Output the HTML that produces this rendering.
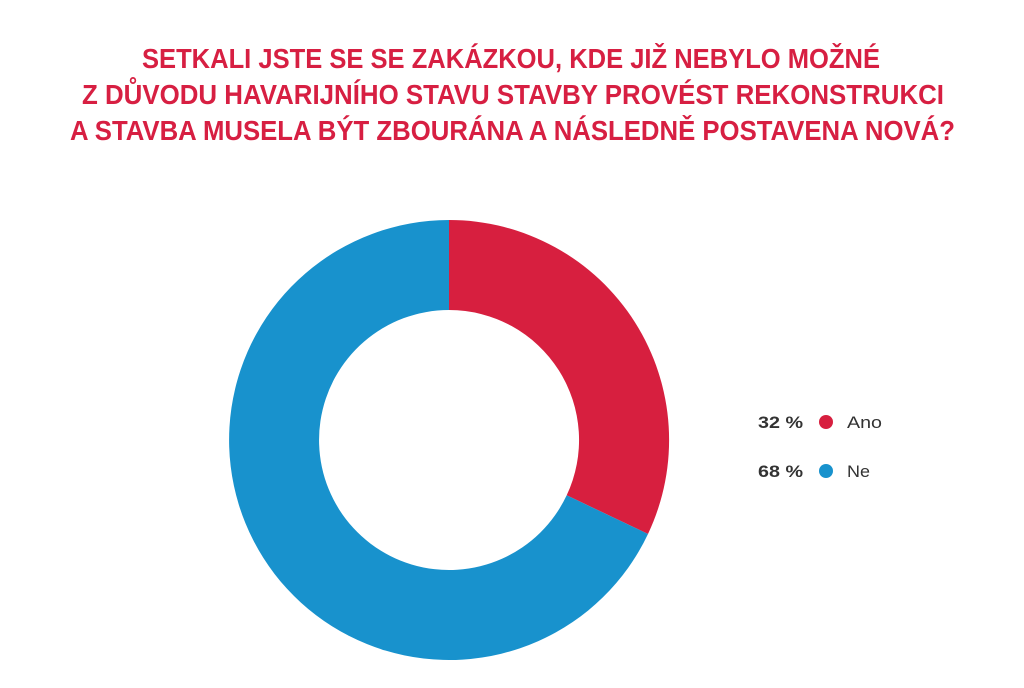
<!DOCTYPE html>
<html><head><meta charset="utf-8"><style>html,body{margin:0;padding:0;background:#fff;}</style></head>
<body>
<svg width="1024" height="683" viewBox="0 0 1024 683" xmlns="http://www.w3.org/2000/svg">
<g font-family="Liberation Sans, sans-serif" font-weight="bold" font-size="28" fill="#d71f42" text-anchor="start">
<text x="142" y="68" textLength="738" lengthAdjust="spacingAndGlyphs">SETKALI JSTE SE SE ZAKÁZKOU, KDE JIŽ NEBYLO MOŽNÉ</text>
<text x="82" y="104" textLength="862" lengthAdjust="spacingAndGlyphs">Z DŮVODU HAVARIJNÍHO STAVU STAVBY PROVÉST REKONSTRUKCI</text>
<text x="70" y="140" textLength="885" lengthAdjust="spacingAndGlyphs">A STAVBA MUSELA BÝT ZBOURÁNA A NÁSLEDNĚ POSTAVENA NOVÁ?</text>
</g>
<path d="M449,220 A220,220 0 0 1 648,534 L566.7,495.3 A130,130 0 0 0 449,310 Z" fill="#d71f3f"/>
<path d="M648,534 A220,220 0 1 1 449,220 L449,310 A130,130 0 1 0 566.7,495.3 Z" fill="#1892cd"/>
<g font-family="Liberation Sans, DejaVu Sans, sans-serif" font-size="17" fill="#333">
<text x="758" y="428" font-weight="bold" textLength="45" lengthAdjust="spacingAndGlyphs">32 %</text>
<circle cx="826" cy="422" r="7" fill="#d71f3f"/>
<text x="847" y="428" textLength="35" lengthAdjust="spacingAndGlyphs">Ano</text>
<text x="758" y="477" font-weight="bold" textLength="45" lengthAdjust="spacingAndGlyphs">68 %</text>
<circle cx="826" cy="471" r="7" fill="#1892cd"/>
<text x="847" y="477" textLength="23" lengthAdjust="spacingAndGlyphs">Ne</text>
</g>
</svg>
</body></html>
